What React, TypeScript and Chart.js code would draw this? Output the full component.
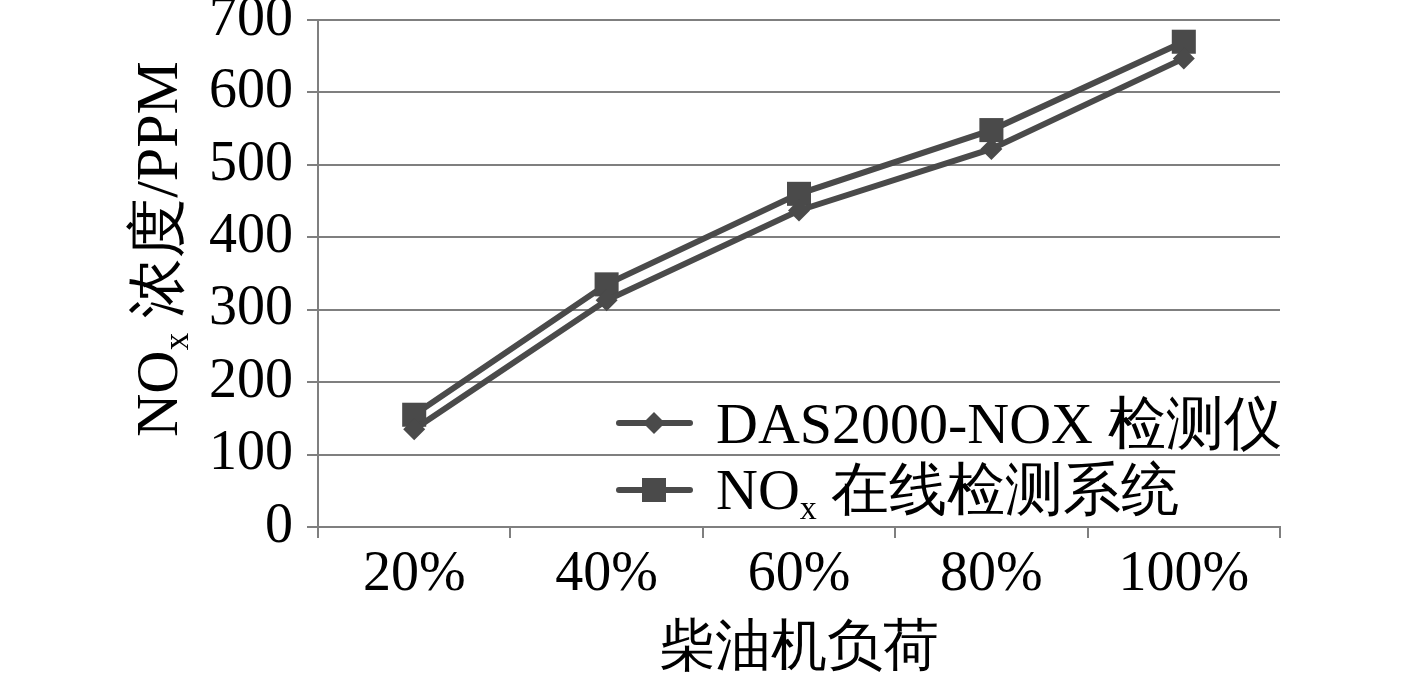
import React, { useEffect, useRef } from "react";
import { Chart, registerables } from "chart.js";

Chart.register(...registerables);

const categories = ["20%", "40%", "60%", "80%", "100%"];
const dasValues = [135, 313, 437, 522, 647];
const onlineValues = [155, 335, 460, 548, 670];
const yTicks = [0, 100, 200, 300, 400, 500, 600, 700];
const seriesNames = ["DAS2000-NOX 检测仪", "在线检测系统"];
const xTitle = "柴油机负荷";

const FONT = "'Liberation Serif', 'Times New Roman', serif";
const LINE = "#4a4a4a";
const GRID = "#7f7f7f";

function drawMarker(ctx: CanvasRenderingContext2D, kind: string, x: number, y: number) {
  ctx.fillStyle = LINE;
  ctx.beginPath();
  if (kind === "diamond") {
    const r = 11;
    ctx.moveTo(x, y - r);
    ctx.lineTo(x + r, y);
    ctx.lineTo(x, y + r);
    ctx.lineTo(x - r, y);
  } else {
    const s = 12;
    ctx.rect(x - s, y - s, 2 * s, 2 * s);
  }
  ctx.closePath();
  ctx.fill();
}

const textPlugin = {
  id: "textPlugin",
  afterDraw(chart: any) {
    const ctx: CanvasRenderingContext2D = chart.ctx;
    ctx.save();
    ctx.fillStyle = "#000";
    // Y title
    ctx.save();
    ctx.translate(177, 249);
    ctx.rotate(-Math.PI / 2);
    const big = `60px ${FONT}`;
    const small = `35px ${FONT}`;
    ctx.font = big;
    const wNO = ctx.measureText("NO").width;
    ctx.font = small;
    const wx = ctx.measureText("x").width;
    ctx.font = big;
    const wRest = ctx.measureText(" 浓度/PPM").width;
    const total = wNO + wx + wRest;
    let cx = -total / 2;
    ctx.textBaseline = "alphabetic";
    ctx.textAlign = "left";
    ctx.font = big;
    ctx.fillText("NO", cx, 0);
    cx += wNO;
    ctx.font = small;
    ctx.fillText("x", cx, 11);
    cx += wx;
    ctx.font = big;
    ctx.fillText(" 浓度/PPM", cx, 0);
    ctx.restore();

    // X title
    ctx.font = `56px ${FONT}`;
    ctx.textAlign = "center";
    ctx.textBaseline = "alphabetic";
    const area = chart.chartArea;
    ctx.fillText(xTitle, (area.left + area.right) / 2, 664);

    // Legend
    const rows = [
      { y: 423, kind: "diamond", base: 443 },
      { y: 490, kind: "square", base: 509 },
    ];
    rows.forEach((r, i) => {
      ctx.strokeStyle = LINE;
      ctx.lineWidth = 6;
      ctx.lineCap = "round";
      ctx.beginPath();
      ctx.moveTo(619, r.y);
      ctx.lineTo(690, r.y);
      ctx.stroke();
      drawMarker(ctx, r.kind, 654, r.y);
      ctx.fillStyle = "#000";
      ctx.textAlign = "left";
      ctx.font = `58px ${FONT}`;
      if (i === 0) {
        ctx.fillText(seriesNames[0], 716, r.base);
      } else {
        let x = 716;
        ctx.fillText("NO", x, r.base);
        x += ctx.measureText("NO").width;
        ctx.font = `34px ${FONT}`;
        ctx.fillText("x", x, r.base + 10);
        x += ctx.measureText("x").width;
        ctx.font = `58px ${FONT}`;
        ctx.fillText(" " + seriesNames[1], x, r.base);
      }
    });
    ctx.restore();
  },
};

export default function App() {
  const ref = useRef<HTMLCanvasElement | null>(null);
  useEffect(() => {
    if (!ref.current) return;
    const chart = new Chart(ref.current, {
      type: "line",
      data: {
        labels: categories,
        datasets: [
          {
            label: seriesNames[0],
            data: dasValues,
            borderColor: LINE,
            backgroundColor: LINE,
            borderWidth: 6,
            pointStyle: "rectRot",
            pointRadius: 11,
            pointBorderWidth: 0,
            tension: 0,
          },
          {
            label: seriesNames[1],
            data: onlineValues,
            borderColor: LINE,
            backgroundColor: LINE,
            borderWidth: 6,
            pointStyle: "rect",
            pointRadius: 17,
            pointBorderWidth: 0,
            tension: 0,
          },
        ],
      },
      options: {
        animation: false,
        responsive: false,
        devicePixelRatio: 1,
        layout: { padding: { left: 0, right: 137, top: 20, bottom: 0 } },
        plugins: {
          legend: { display: false },
          tooltip: { enabled: false },
          title: { display: false },
        },
        scales: {
          x: {
            type: "category",
            offset: true,
            grid: {
              offset: true,
              drawOnChartArea: false,
              drawTicks: true,
              tickLength: 11,
              color: GRID,
              lineWidth: 2,
            },
            border: { color: GRID, width: 2 },
            ticks: {
              color: "#000",
              font: { family: FONT, size: 56 },
              padding: 4,
              maxRotation: 0,
            },
            afterFit: (s: any) => {
              s.height = 146;
              s.paddingLeft = 0;
              s.paddingRight = 0;
            },
          },
          y: {
            min: 0,
            max: 700,
            afterBuildTicks: (s: any) => {
              s.ticks = yTicks.map((v) => ({ value: v }));
            },
            grid: {
              color: GRID,
              lineWidth: 2,
              tickLength: 11,
            },
            border: { color: GRID, width: 2 },
            ticks: {
              color: "#000",
              font: { family: FONT, size: 56 },
              padding: 14,
            },
            afterFit: (s: any) => {
              s.width = 318;
              s.paddingTop = 0;
              s.paddingBottom = 0;
            },
          },
        },
      },
      plugins: [textPlugin],
    });
    return () => chart.destroy();
  }, []);
  return (
    <div style={{ position: "fixed", left: 0, top: 0, width: 1417, height: 673, background: "#fff" }}>
      <canvas ref={ref} width={1417} height={673} style={{ width: 1417, height: 673 }} />
    </div>
  );
}
